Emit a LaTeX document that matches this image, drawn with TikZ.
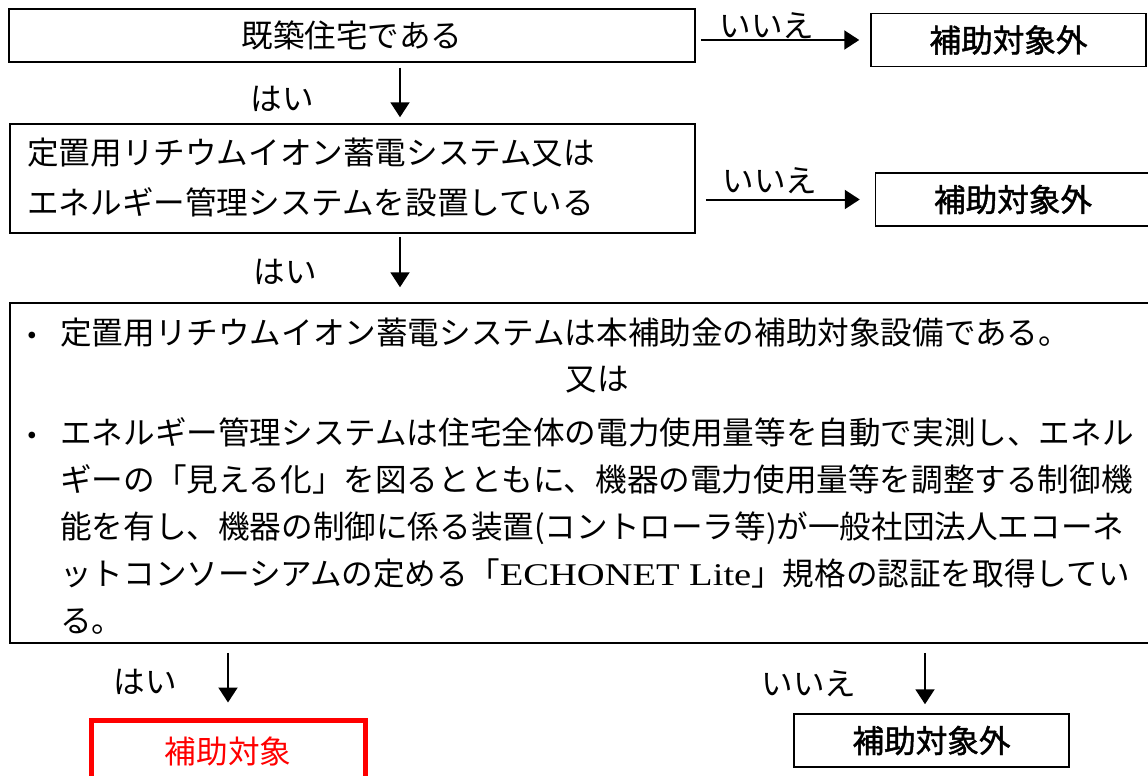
\documentclass[tikz,border=0pt]{standalone}
\usepackage{fontspec}
\usepackage{graphicx}
\setmainfont{Liberation Serif}
\newfontfamily\jp{Noto Sans CJK JP}
\newfontfamily\jpb[FakeBold=1.5]{Noto Sans CJK JP}
\usetikzlibrary{arrows.meta,calc}
\tikzset{
  every node/.style={font=\jp\fontsize{31.6}{36}\selectfont, inner sep=0pt},
  box/.style={draw, line width=1.5pt, rectangle},
  arr/.style={line width=2pt, -{Triangle[width=19pt,length=15pt]}},
  txtline/.style={anchor=west, text height=27pt, text depth=4pt},
  nobox/.style={box, font=\jpb\fontsize{31.6}{36}\selectfont, minimum width=275pt, minimum height=53pt}
}
\begin{document}
\begin{tikzpicture}[x=1pt,y=-1pt]
\useasboundingbox (0,0) rectangle (1148,776);
% first question
\node[box, minimum width=686pt, minimum height=53pt] (q1) at (352,35.5) {既築住宅である};
\node[nobox] (n1) at (1008.5,40) {補助対象外};
\draw[arr, shorten <=5pt, shorten >=11pt] (q1.east |- n1.west) -- (n1.west);
\node (l1) at (767,26) {いいえ};
\coordinate (s1) at ($(q1.south)+(48,5)$);
\node[box, minimum width=685pt, minimum height=109pt] (q2) at (352.5,178.5) {};
\draw[arr, shorten >=6pt] (s1) -- (s1 |- q2.north);
\node (y1) at (282,99) {はい};
% second question
\node[txtline] (q2a) at (27,153) {定置用リチウムイオン蓄電システム又は};
\node[txtline] (q2b) at (27,203) {エネルギー管理システムを設置している};
\node[nobox] (n2) at (1013,199.5) {補助対象外};
\draw[arr, shorten <=10pt, shorten >=15pt] (q2.east |- n2.west) -- (n2.west);
\node (l2) at (770,181) {いいえ};
\coordinate (s2) at ($(q2.south)+(47.5,3)$);
\node[box, minimum width=1142pt, minimum height=340pt] (q3) at (581,473) {};
\draw[arr, shorten >=15pt] (s2) -- (s2 |- q3.north);
\node (y2) at (285,272) {はい};
% third question text
\node[txtline] (b1) at (16,336) {・};
\node[txtline] (t1) at (60,333) {定置用リチウムイオン蓄電システムは本補助金の補助対象設備である。};
\node (t2) at (597,380) {又は};
\node[txtline] (b2) at (16,436) {・};
\node[txtline] (t3) at (60,433) {エネルギー管理システムは住宅全体の電力使用量等を自動で実測し、エネル};
\node[txtline] (t4) at (60,480) {ギーの「見える化」を図るとともに、機器の電力使用量等を調整する制御機};
\node[txtline] (t5) at (60,527) {能を有し、機器の制御に係る装置(コントローラ等)が一般社団法人エコーネ};
\node[txtline] (t6) at (60,574) {ットコンソーシアムの定める「\scalebox{1.22}[1]{\rmfamily ECHONET Lite}」規格の認証を取得してい};
\node[txtline] (t7) at (60,621) {る。};
% results
\node[draw=red, line width=5pt, minimum width=274pt, minimum height=62pt, text=red] (ok) at (228,751) {補助対象};
\node[nobox] (n3) at (931.5,740.5) {補助対象外};
\draw[arr, shorten <=9pt, shorten >=15pt] (ok.north |- q3.south) -- (ok.north);
\coordinate (s3) at ($(q3.south -| n3.north)+(-6.5,9)$);
\draw[arr, shorten >=9pt] (s3) -- (s3 |- n3.north);
\node (y3) at (145,682) {はい};
\node (l3) at (809,684) {いいえ};
\end{tikzpicture}
\end{document}
